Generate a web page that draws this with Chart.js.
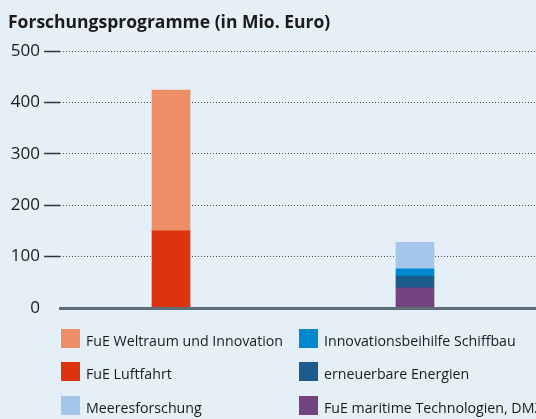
<!DOCTYPE html>
<html lang="de">
<head>
    <meta charset="UTF-8">
    <title>Forschungsprogramme</title>
    <style>
        html, body {
            margin: 0;
            padding: 0;
            overflow: hidden;
        }
        .box {
            position: relative;
            width: 536px;
            height: 419px;
            background: #e4eff7;
            overflow: hidden;
            font-family: "Open Sans", sans-serif;
            color: #1b1b1b;
        }
        .title {
            position: absolute;
            left: 8px;
            top: 9px;
            font-size: 17.5px;
            font-weight: bold;
            line-height: 24px;
            white-space: nowrap;
        }
        #chartWrap {
            position: absolute;
            left: 0;
            top: 0;
            width: 536px;
            height: 330px;
        }
        .legend-item {
            position: absolute;
            display: flex;
            align-items: flex-end;
            white-space: nowrap;
            font-size: 14.2px;
            line-height: 14px;
        }
        .legend-item span.sw {
            display: inline-block;
            width: 19px;
            height: 19px;
            margin-right: 6px;
        }
    </style>
</head>
<body>
<div class="box">
    <div id="chartWrap"><canvas id="fpChart" width="536" height="330"></canvas></div>
    <div class="title">Forschungsprogramme (in Mio. Euro)</div>
    <div id="legend"></div>
</div>

<script src="https://cdn.jsdelivr.net/npm/chart.js"></script>
<script>
    // two bar positions (no labels shown in the picture)
    const positions = [0, 1];
    const yTicks = [0, 100, 200, 300, 400, 500];

    // values in Mio. Euro, one entry per bar position
    const luftfahrt = [150, null];
    const weltraum = [274, null];
    const maritimeTech = [null, 39];
    const erneuerbare = [null, 23];
    const schiffbau = [null, 14];
    const meeres = [null, 52];

    function points(vals) {
        return positions.map((x, i) => ({ x: x, y: vals[i] })).filter(p => p.y !== null);
    }

    // stacking order: first dataset sits at the bottom
    const datasets = [
        { label: 'FuE Luftfahrt', data: points(luftfahrt), backgroundColor: '#dd3410' },
        { label: 'FuE Weltraum und Innovation', data: points(weltraum), backgroundColor: '#ee8e66' },
        { label: 'FuE maritime Technologien, DMZ', data: points(maritimeTech), backgroundColor: '#73437f' },
        { label: 'erneuerbare Energien', data: points(erneuerbare), backgroundColor: '#1b5c8d' },
        { label: 'Innovationsbeihilfe Schiffbau', data: points(schiffbau), backgroundColor: '#0089cf' },
        { label: 'Meeresforschung', data: points(meeres), backgroundColor: '#a6c5ea' }
    ];

    // legend layout: left column, then right column
    const legendOrder = [
        'FuE Weltraum und Innovation', 'FuE Luftfahrt', 'Meeresforschung',
        'Innovationsbeihilfe Schiffbau', 'erneuerbare Energien', 'FuE maritime Technologien, DMZ'
    ];

    const ctx = document.getElementById('fpChart').getContext('2d');
    const chart = new Chart(ctx, {
        type: 'bar',
        data: { datasets: datasets },
        options: {
            responsive: false,
            animation: false,
            layout: { padding: { top: 51, bottom: 22, left: 0, right: 0 } },
            datasets: { bar: { barThickness: 38 } },
            plugins: {
                legend: { display: false },
                tooltip: { enabled: false }
            },
            scales: {
                x: {
                    type: 'linear',
                    stacked: true,
                    offset: false,
                    min: -0.455,
                    max: 1.496,
                    ticks: { display: false },
                    grid: { display: false, offset: false },
                    border: { display: true, color: '#5e6d77', width: 3, z: 1 },
                    afterFit: s => { s.height = 0; }
                },
                y: {
                    stacked: true,
                    min: 0,
                    max: 500,
                    afterBuildTicks: s => { s.ticks = yTicks.map(v => ({ value: v })); },
                    ticks: {
                        padding: 4,
                        color: '#1b1b1b',
                        font: { family: '"Open Sans", sans-serif', size: 17 }
                    },
                    grid: {
                        color: c => c.tick && c.tick.value === 0 ? 'rgba(0,0,0,0)' : '#4d5964',
                        lineWidth: 1,
                        tickLength: 16,
                        tickWidth: 1.5,
                        tickColor: c => c.tick && c.tick.value === 0 ? 'rgba(0,0,0,0)' : '#2e3338',
                        tickBorderDash: []
                    },
                    border: { display: false, dash: [1, 2] },
                    afterFit: s => { s.width = 60; }
                }
            }
        }
    });

    // html legend in two columns
    const legendEl = document.getElementById('legend');
    const colX = [61, 299];
    const rowY = [329, 362, 396];
    legendOrder.forEach((name, k) => {
        const ds = datasets.find(d => d.label === name);
        const item = document.createElement('div');
        item.className = 'legend-item';
        item.style.left = colX[Math.floor(k / 3)] + 'px';
        item.style.top = rowY[k % 3] + 'px';
        item.innerHTML = '<span class="sw" style="background:' + ds.backgroundColor + '"></span><span>' + name + '</span>';
        legendEl.appendChild(item);
    });
</script>
</body>
</html>
